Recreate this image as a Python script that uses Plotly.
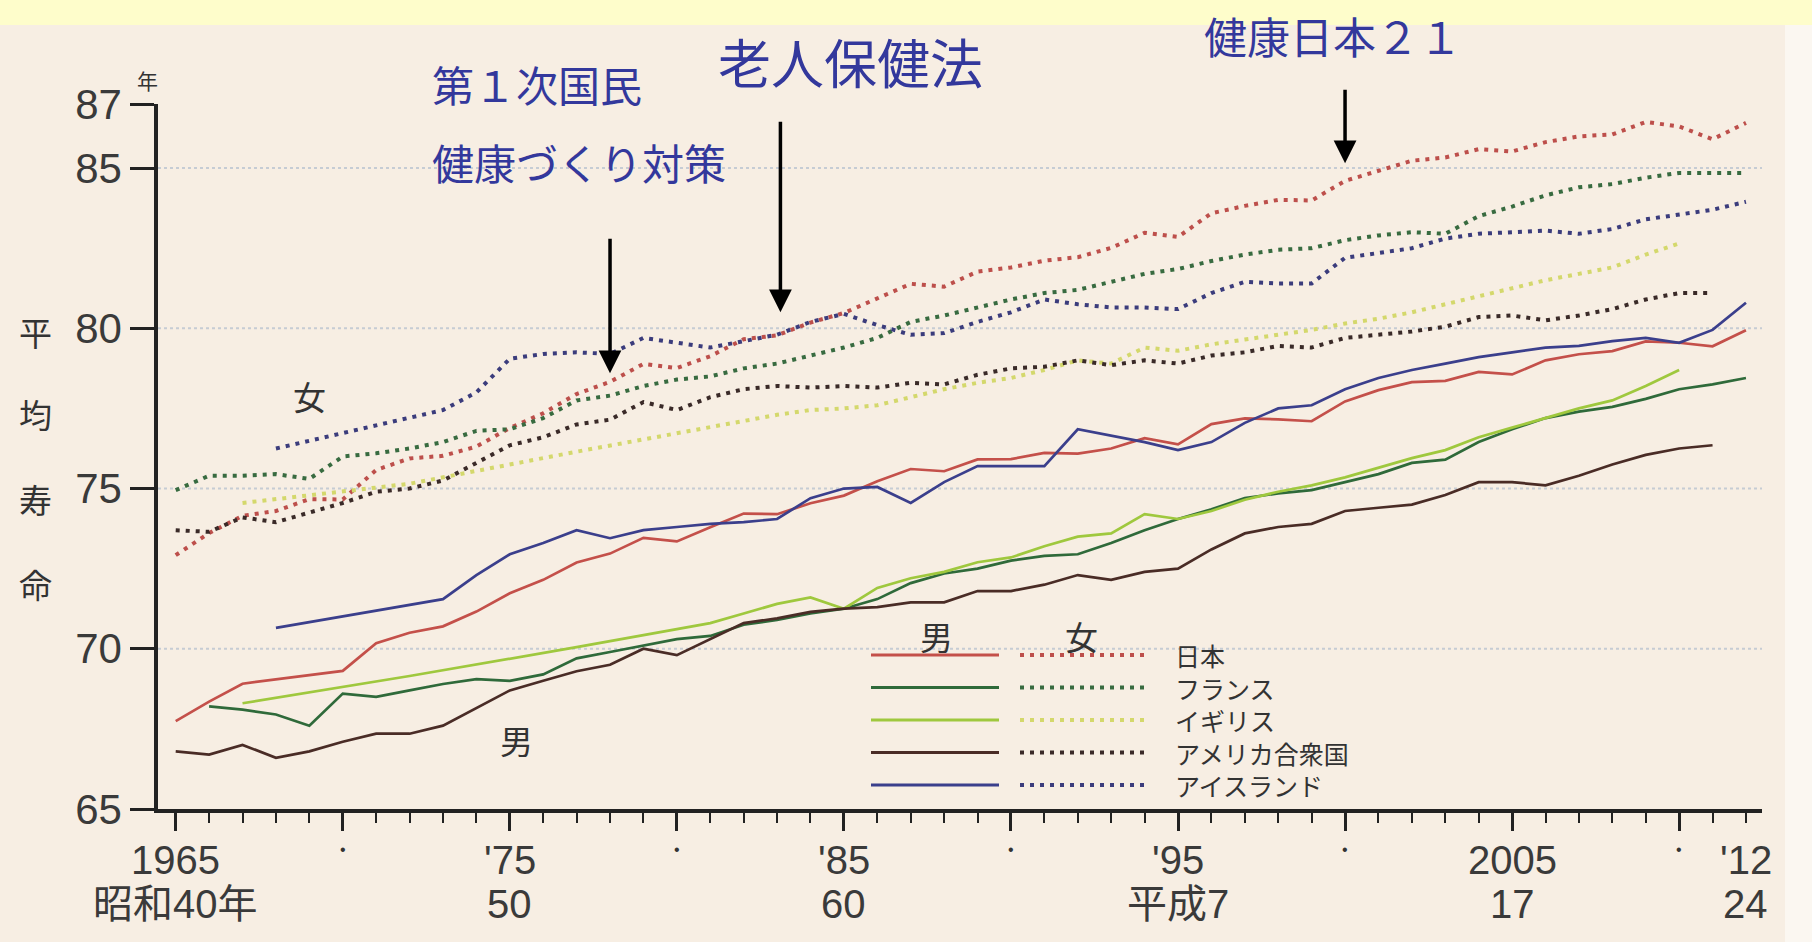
import plotly.graph_objects as go

# 平均寿命の国際比較（年）
years_jp = list(range(1965, 2013))
jp_male = [67.74, 68.35, 68.91, 69.05, 69.18, 69.31, 70.17, 70.50, 70.70, 71.16,
           71.73, 72.15, 72.69, 72.97, 73.46, 73.35, 73.79, 74.22, 74.20, 74.54,
           74.78, 75.23, 75.61, 75.54, 75.91, 75.92, 76.11, 76.09, 76.25, 76.57,
           76.38, 77.01, 77.19, 77.16, 77.10, 77.72, 78.07, 78.32, 78.36, 78.64,
           78.56, 79.00, 79.19, 79.29, 79.59, 79.55, 79.44, 79.94]
jp_female = [72.92, 73.61, 74.15, 74.30, 74.67, 74.66, 75.58, 75.94, 76.02, 76.31,
             76.89, 77.35, 77.95, 78.33, 78.89, 78.76, 79.13, 79.66, 79.78, 80.18,
             80.48, 80.93, 81.39, 81.30, 81.77, 81.90, 82.11, 82.22, 82.51, 82.98,
             82.85, 83.59, 83.82, 84.01, 83.99, 84.60, 84.93, 85.23, 85.33, 85.59,
             85.52, 85.81, 85.99, 86.05, 86.44, 86.30, 85.90, 86.41]

years_fr_m = list(range(1966, 2013))
fr_male = [68.2, 68.1, 67.95, 67.6, 68.6, 68.5, 68.7, 68.9, 69.05, 69.0,
           69.2, 69.7, 69.9, 70.1, 70.3, 70.4, 70.75, 70.9, 71.1, 71.25,
           71.55, 72.05, 72.35, 72.5, 72.75, 72.9, 72.95, 73.3, 73.7, 74.05,
           74.35, 74.7, 74.85, 74.95, 75.2, 75.45, 75.8, 75.9, 76.45, 76.85,
           77.2, 77.4, 77.55, 77.8, 78.1, 78.25, 78.45]
years_fr_f = list(range(1965, 2013))
fr_female = [74.95, 75.4, 75.4, 75.45, 75.3, 76.0, 76.1, 76.25, 76.45, 76.8,
             76.85, 77.2, 77.75, 77.9, 78.2, 78.4, 78.5, 78.75, 78.9, 79.15,
             79.4, 79.7, 80.2, 80.4, 80.65, 80.9, 81.1, 81.2, 81.45, 81.7,
             81.85, 82.1, 82.3, 82.45, 82.5, 82.75, 82.9, 83.0, 82.95, 83.5,
             83.8, 84.15, 84.4, 84.5, 84.7, 84.85, 84.85, 84.85]

years_uk = [1967, 1972, 1977] + list(range(1981, 2011))
uk_male = [68.3, 69.15, 70.05,
           70.8, 71.1, 71.4, 71.6, 71.25, 71.9, 72.2, 72.4, 72.7, 72.85,
           73.2, 73.5, 73.6, 74.2, 74.05, 74.3, 74.65, 74.9, 75.1, 75.35,
           75.65, 75.95, 76.2, 76.6, 76.9, 77.2, 77.5, 77.75, 78.2, 78.7]
uk_female = [74.55, 75.15, 76.15,
             76.9, 77.1, 77.3, 77.45, 77.5, 77.6, 77.85, 78.1, 78.3, 78.45,
             78.7, 79.0, 78.9, 79.4, 79.3, 79.5, 79.65, 79.8, 79.95, 80.15,
             80.3, 80.5, 80.75, 81.0, 81.25, 81.5, 81.7, 81.9, 82.3, 82.65]

years_us = list(range(1965, 2012))
us_male = [66.8, 66.7, 67.0, 66.6, 66.8, 67.1, 67.35, 67.35, 67.6, 68.15,
           68.7, 69.0, 69.3, 69.5, 70.0, 69.8, 70.3, 70.8, 70.95, 71.15,
           71.25, 71.3, 71.45, 71.45, 71.8, 71.8, 72.0, 72.3, 72.15, 72.4,
           72.5, 73.1, 73.6, 73.8, 73.9, 74.3, 74.4, 74.5, 74.8, 75.2,
           75.2, 75.1, 75.4, 75.75, 76.05, 76.25, 76.35]
us_female = [73.7, 73.65, 74.1, 73.95, 74.25, 74.55, 74.9, 75.0, 75.25, 75.8,
             76.35, 76.6, 77.0, 77.15, 77.7, 77.45, 77.85, 78.1, 78.2, 78.15,
             78.2, 78.15, 78.3, 78.25, 78.55, 78.75, 78.8, 79.0, 78.85, 79.0,
             78.9, 79.15, 79.25, 79.45, 79.4, 79.7, 79.8, 79.9, 80.05, 80.35,
             80.4, 80.25, 80.4, 80.6, 80.9, 81.1, 81.1]

years_is = [1968] + list(range(1973, 2013))
is_male = [70.65,
           71.55, 72.3, 72.95, 73.3, 73.7, 73.45, 73.7, 73.8, 73.9, 73.95,
           74.05, 74.7, 75.0, 75.05, 74.55, 75.2, 75.7, 75.7, 75.7, 76.85,
           76.65, 76.45, 76.2, 76.45, 77.05, 77.5, 77.6, 78.1, 78.45, 78.7,
           78.9, 79.1, 79.25, 79.4, 79.45, 79.6, 79.7, 79.55, 79.95, 80.8]
is_female = [76.25,
             77.45, 78.0, 79.05, 79.2, 79.25, 79.2, 79.7, 79.55, 79.4, 79.6,
             79.8, 80.2, 80.45, 80.1, 79.8, 79.85, 80.2, 80.5, 80.9, 80.75,
             80.65, 80.65, 80.6, 81.1, 81.45, 81.4, 81.4, 82.2, 82.35, 82.5,
             82.8, 82.95, 83.0, 83.05, 82.95, 83.1, 83.4, 83.55, 83.7, 83.95]

countries = ["日本", "フランス", "イギリス", "アメリカ合衆国", "アイスランド"]
male_colors = ["#c4504a", "#2f6a3a", "#9fc83e", "#4a2c26", "#3b3f8c"]
female_colors = ["#bd4f4b", "#386b40", "#d4d86c", "#3a2a28", "#3b3c7c"]

series = [
    (years_jp, jp_male, years_jp, jp_female),
    (years_fr_m, fr_male, years_fr_f, fr_female),
    (years_uk, uk_male, years_uk, uk_female),
    (years_us, us_male, years_us, us_female),
    (years_is, is_male, years_is, is_female),
]

# x軸の目盛ラベル（西暦 / 和暦）
xlab_years = [1965, 1975, 1985, 1995, 2005, 2012]
xlab_top = ["1965", "'75", "'85", "'95", "2005", "'12"]
xlab_bottom = ["昭和40年", "50", "60", "平成7", "17", "24"]
dot_years = [1970, 1980, 1990, 2000, 2010]
y_ticks = [65, 70, 75, 80, 85, 87]
grid_vals = [70, 75, 80, 85]

# 政策の年と矢印
policy_years = [1978, 1983.1, 2000]
policy_tips = [78.6, 80.5, 85.15]
policy_len = [136, 192, 75]

# plot area in pixels
L, R, T, B = 158, 1762, 104, 809
W, H = R - L, B - T


def fx(px):
    return (px - L) / W


def fy(py):
    return (B - py) / H


NUM = "Liberation Sans, Arial, Noto Sans CJK JP"
JP = "Noto Sans CJK JP"
BLUE = "#33389c"
DOT = "4px,6px"

fig = go.Figure()

for i, (xm, ym, xf, yf) in enumerate(series):
    fig.add_trace(go.Scatter(x=xm, y=ym, mode="lines", name=countries[i] + " 男",
                             line=dict(color=male_colors[i], width=2.7)))
for i, (xm, ym, xf, yf) in enumerate(series):
    fig.add_trace(go.Scatter(x=xf, y=yf, mode="lines", name=countries[i] + " 女",
                             line=dict(color=female_colors[i], width=4, dash=DOT)))

shapes = []
# top yellow band and right light strip
shapes.append(dict(type="rect", xref="paper", yref="paper", x0=fx(0), x1=fx(1812),
                   y0=fy(25), y1=fy(0), fillcolor="#fefdcb", line_width=0, layer="below"))
shapes.append(dict(type="rect", xref="paper", yref="paper", x0=fx(1785), x1=fx(1812),
                   y0=fy(942), y1=fy(25), fillcolor="#fbf7f1", line_width=0, layer="below"))
for g in grid_vals:
    shapes.append(dict(type="line", xref="paper", yref="y", x0=0, x1=1, y0=g, y1=g,
                       line=dict(color="#c6ccd4", width=2, dash="dot"), layer="below"))

# legend (男 = solid, 女 = dotted); rows follow the 1.3em line spacing of the label block
LEG_SIZE = 25
leg_mid = 720
leg_rows = [leg_mid + (i - 2) * 1.3 * LEG_SIZE for i in range(len(countries))]
for i, ry in enumerate(leg_rows):
    shapes.append(dict(type="line", xref="paper", yref="paper", x0=fx(871), x1=fx(999),
                       y0=fy(ry), y1=fy(ry), line=dict(color=male_colors[i], width=3)))
    shapes.append(dict(type="line", xref="paper", yref="paper", x0=fx(1020), x1=fx(1148),
                       y0=fy(ry), y1=fy(ry), line=dict(color=female_colors[i], width=4, dash=DOT)))


def label(text, x, y, size, color="#333", family=JP, xref="paper", yref="paper",
          xanchor="center", yanchor="middle", align="center"):
    return dict(text=text, xref=xref, yref=yref, x=x, y=y, xanchor=xanchor,
                yanchor=yanchor, align=align, showarrow=False,
                font=dict(family=family, size=size, color=color))


ann = []
ann.append(label("<br>".join(countries), fx(1173), fy(leg_mid), LEG_SIZE,
                 xanchor="left", align="left"))
ann.append(label("男", fx(936), fy(636), 33))
ann.append(label("女", fx(1081), fy(636), 33))

# in-plot labels
ann.append(label("女", 1969.0, 77.9, 33, xref="x", yref="y"))
ann.append(label("男", 1975.2, 67.15, 33, xref="x", yref="y"))

# x tick labels
for yr, t1, t2 in zip(xlab_years, xlab_top, xlab_bottom):
    ann.append(label(t1, yr, fy(860), 40, color="#3a3a3a", family=NUM, xref="x"))
    ann.append(label(t2, yr, fy(904), 40, color="#3a3a3a", family=NUM, xref="x"))
for yr in dot_years:
    ann.append(label("•", yr, fy(849), 16, family=NUM, xref="x"))

# y axis title and unit
for ch, cy in zip("平均寿命", [332, 414, 499, 584]):
    ann.append(label(ch, fx(35), fy(cy), 33))
ann.append(label("年", fx(147), fy(80), 21))

# policy texts
ann.append(label("第１次国民", fx(430), fy(84), 42, color=BLUE, xanchor="left"))
ann.append(label("健康づくり対策", fx(430), fy(161), 42, color=BLUE, xanchor="left"))
ann.append(label("老人保健法", fx(716), fy(61), 53, color=BLUE, xanchor="left"))
ann.append(label("健康日本２１", fx(1202), fy(2), 43, color=BLUE, xanchor="left",
                 yanchor="top"))
for px_, tip, ln in zip(policy_years, policy_tips, policy_len):
    ann.append(dict(text="", xref="x", yref="y", x=px_, y=tip, ax=0, ay=-ln,
                    showarrow=True, arrowhead=2, arrowsize=1.3, arrowwidth=3.5,
                    arrowcolor="#000", standoff=0))

fig.update_layout(
    width=1812, height=942,
    margin=dict(l=L, r=1812 - R, t=T, b=942 - B),
    paper_bgcolor="#f7eee3", plot_bgcolor="rgba(0,0,0,0)",
    showlegend=False,
    shapes=shapes, annotations=ann,
    xaxis=dict(range=[1964.47, 2012.48], showline=True, linewidth=4, linecolor="#222",
               ticks="outside", tickvals=list(range(1965, 2011, 5)), ticklen=18,
               tickwidth=2.5, tickcolor="#222", showticklabels=False,
               showgrid=False, zeroline=False,
               minor=dict(ticks="outside", tickvals=list(range(1965, 2013)), ticklen=10,
                          tickwidth=2, tickcolor="#222", showgrid=False)),
    yaxis=dict(range=[65, 87], showline=True, linewidth=3.5, linecolor="#222",
               ticks="outside", tickvals=y_ticks, ticklen=24, tickwidth=2.5,
               tickcolor="#222", tickfont=dict(family=NUM, size=42, color="#3a3a3a"),
               showgrid=False, zeroline=False),
)

fig.write_html("out.html", config={"displayModeBar": False},
               post_script="document.body.style.margin='0';document.body.style.overflow='hidden';")
